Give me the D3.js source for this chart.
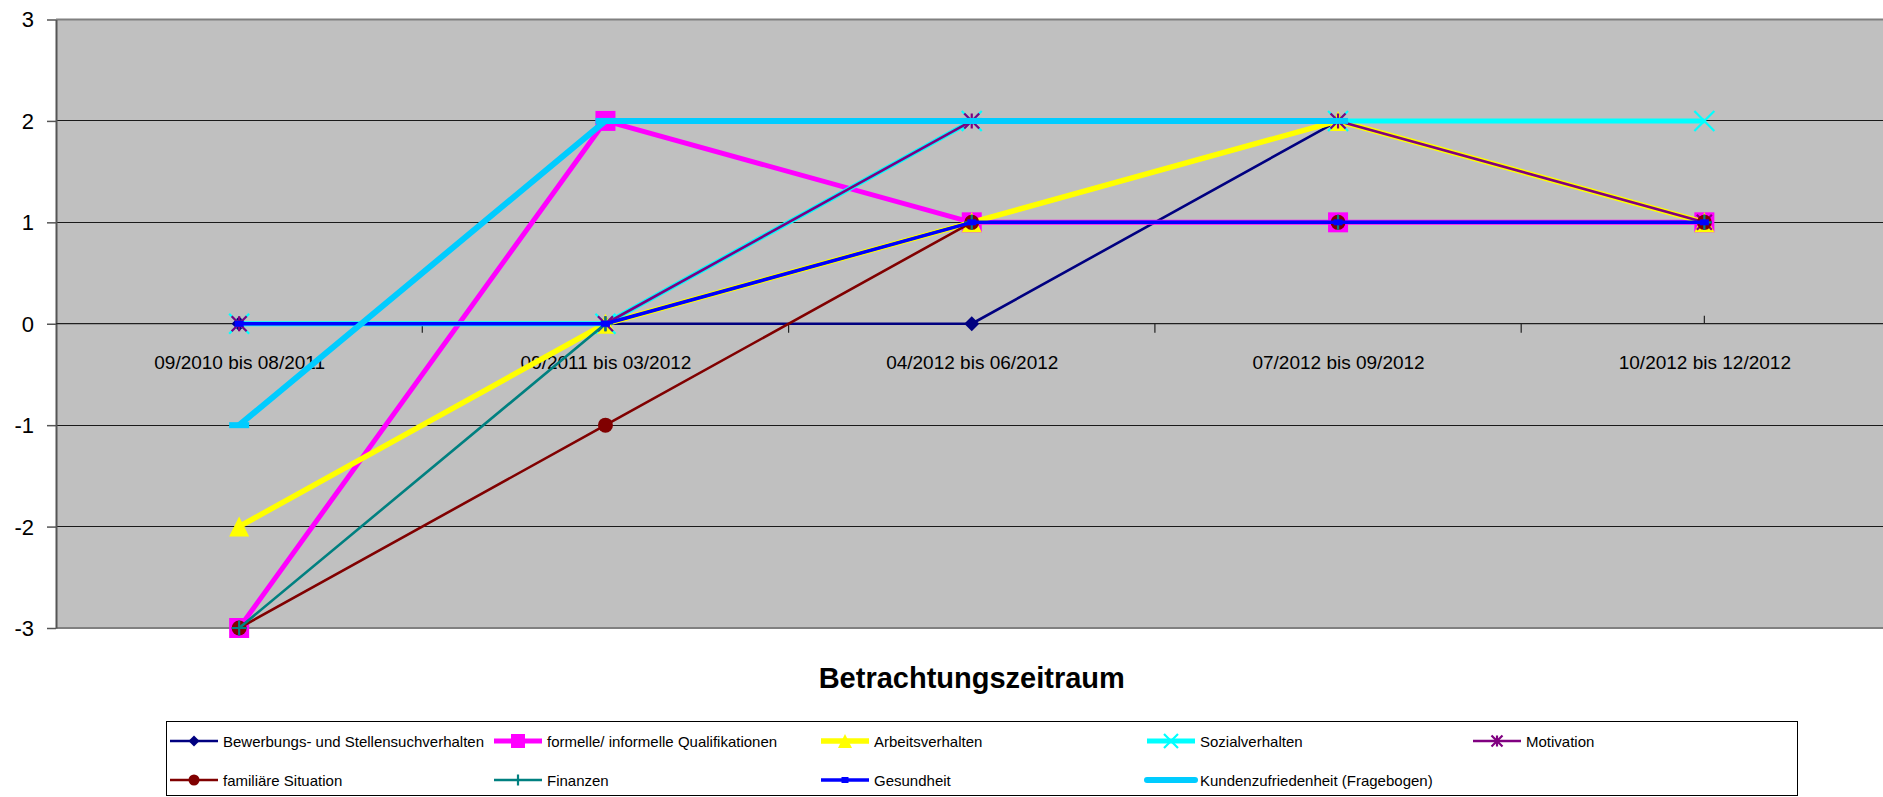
<!DOCTYPE html>
<html>
<head>
<meta charset="utf-8">
<script src="https://cdn.jsdelivr.net/npm/d3@7"></script>
<style>
  html, body { margin: 0; padding: 0; background: #fff; }
  svg { display: block; font-family: "Liberation Sans", Arial, sans-serif; }
</style>
</head>
<body>
<svg id="chart" width="1883" height="797"></svg>
<script>
// ---------- data ----------
const categories = ["09/2010 bis 08/2011", "09/2011 bis 03/2012", "04/2012 bis 06/2012", "07/2012 bis 09/2012", "10/2012 bis 12/2012"];
const yTicks = [-3, -2, -1, 0, 1, 2, 3];
const seriesNames = [
  "Bewerbungs- und Stellensuchverhalten",
  "formelle/ informelle Qualifikationen",
  "Arbeitsverhalten",
  "Sozialverhalten",
  "Motivation",
  "familiäre Situation",
  "Finanzen",
  "Gesundheit",
  "Kundenzufriedenheit (Fragebogen)"
];
const bewerbung      = [0, 0, 0, 2, 1];
const qualifikation  = [-3, 2, 1, 1, 1];
const arbeit         = [-2, 0, 1, 2, 1];
const sozial         = [0, 0, 2, 2, 2];
const motivation     = [0, 0, 2, 2, 1];
const familie        = [-3, -1, 1, 1, 1];
const finanzen       = [-3, 0, 1, 1, 1];
const gesundheit     = [0, 0, 1, 1, 1];
const kunden         = [-1, 2, 2, 2, null];
const xTitle = "Betrachtungszeitraum";

// ---------- styling ----------
const styles = [
  { color: "#000080", width: 2.6, marker: "diamond", size: 15 },
  { color: "#FF00FF", width: 5,   marker: "square",  size: 20 },
  { color: "#FFFF00", width: 5.5, marker: "triangle", size: 20 },
  { color: "#00FFFF", width: 5,   marker: "x",       size: 20 },
  { color: "#800080", width: 2.6, marker: "asterisk", size: 15 },
  { color: "#800000", width: 2.6, marker: "circle",  size: 15 },
  { color: "#008080", width: 2.6, marker: "plus",    size: 15 },
  { color: "#0000FF", width: 3.5, marker: "smallsq", size: 9 },
  { color: "#00CCFF", width: 6,   marker: "dash",    size: 20 }
];
const values = [bewerbung, qualifikation, arbeit, sozial, motivation, familie, finanzen, gesundheit, kunden];

const svg = d3.select("#chart");
const L = 56, R = 1887.5, T = 19.5, B = 628;

const x = d3.scalePoint().domain(categories).range([L, R]).padding(0.5);
const y = d3.scaleLinear().domain([-3, 3]).range([B, T]);

// plot background
svg.append("rect").attr("x", L).attr("y", T).attr("width", R - L).attr("height", B - T).attr("fill", "#C0C0C0");

// gridlines
svg.append("g").selectAll("line").data(yTicks.filter(d => d !== 3 && d !== -3)).join("line")
  .attr("x1", L).attr("x2", R).attr("y1", d => y(d)).attr("y2", d => y(d))
  .attr("stroke", "#1a1a1a").attr("stroke-width", 1).attr("shape-rendering", "crispEdges");

// plot border top/bottom
svg.append("line").attr("x1", L).attr("x2", R).attr("y1", T).attr("y2", T).attr("stroke", "#808080").attr("stroke-width", 2);
svg.append("line").attr("x1", L).attr("x2", R).attr("y1", B).attr("y2", B).attr("stroke", "#808080").attr("stroke-width", 2);

// y axis (ticks + line via d3 axis, labels placed explicitly)
const yAxis = d3.axisLeft(y).tickValues(yTicks).tickSize(9).tickSizeOuter(0).tickFormat("");
const gy = svg.append("g").attr("transform", `translate(${L},0)`).call(yAxis);
gy.select(".domain").attr("stroke", "#555").attr("stroke-width", 2);
gy.selectAll(".tick line").attr("stroke", "#555").attr("stroke-width", 1.5);
svg.append("g").selectAll("text").data(yTicks).join("text")
  .attr("x", 34).attr("y", d => y(d)).attr("dy", "0.36em")
  .attr("text-anchor", "end").attr("font-size", 22).attr("fill", "#000")
  .text(d => d < 0 ? "-" + Math.abs(d) : String(d));

// x axis at y=0
const x0 = y(0);
const step = x.step();
const xAxis = d3.axisBottom(x).tickSize(0).tickPadding(32);
const gx = svg.append("g").attr("transform", `translate(0,${x0})`).call(xAxis);
gx.select(".domain").remove();
gx.selectAll(".tick text").attr("font-size", 19).attr("fill", "#000")
  .attr("font-family", "Liberation Sans, Arial, sans-serif");
svg.append("line").attr("x1", L).attr("x2", R).attr("y1", x0).attr("y2", x0)
  .attr("stroke", "#222").attr("stroke-width", 1.2);
// boundary ticks
const bounds = categories.slice(1).map(c => x(c) - step / 2);
svg.append("g").selectAll("line").data(bounds).join("line")
  .attr("x1", d => d).attr("x2", d => d).attr("y1", x0).attr("y2", x0 + 9)
  .attr("stroke", "#222").attr("stroke-width", 1.2);
svg.append("line").attr("x1", x(categories[4])).attr("x2", x(categories[4]))
  .attr("y1", x0 - 8).attr("y2", x0).attr("stroke", "#222").attr("stroke-width", 1.2);

// marker drawing
function drawMarker(g, type, cx, cy, s, color) {
  const h = s / 2;
  if (type === "diamond") {
    g.append("path").attr("d", `M${cx},${cy - h}L${cx + h},${cy}L${cx},${cy + h}L${cx - h},${cy}Z`).attr("fill", color);
  } else if (type === "square") {
    g.append("rect").attr("x", cx - h).attr("y", cy - h).attr("width", s).attr("height", s).attr("fill", color);
  } else if (type === "triangle") {
    g.append("path").attr("d", `M${cx},${cy - h}L${cx + h},${cy + h}L${cx - h},${cy + h}Z`).attr("fill", color);
  } else if (type === "x") {
    g.append("path").attr("d", `M${cx - h},${cy - h}L${cx + h},${cy + h}M${cx + h},${cy - h}L${cx - h},${cy + h}`)
      .attr("stroke", color).attr("stroke-width", 2.2).attr("fill", "none");
  } else if (type === "asterisk") {
    g.append("path").attr("d", `M${cx - h},${cy - h}L${cx + h},${cy + h}M${cx + h},${cy - h}L${cx - h},${cy + h}M${cx},${cy - h}L${cx},${cy + h}`)
      .attr("stroke", color).attr("stroke-width", 2.2).attr("fill", "none");
  } else if (type === "circle") {
    g.append("circle").attr("cx", cx).attr("cy", cy).attr("r", h).attr("fill", color);
  } else if (type === "plus") {
    g.append("path").attr("d", `M${cx - h},${cy}L${cx + h},${cy}M${cx},${cy - h}L${cx},${cy + h}`)
      .attr("stroke", color).attr("stroke-width", 2.2).attr("fill", "none");
  } else if (type === "smallsq") {
    g.append("rect").attr("x", cx - s / 2).attr("y", cy - 3).attr("width", s).attr("height", 6).attr("fill", color);
  } else if (type === "dash") {
    g.append("rect").attr("x", cx - h).attr("y", cy - 3).attr("width", s).attr("height", 6).attr("fill", color);
  }
}

// series
const lineGen = d3.line().defined(d => d.v !== null).x(d => x(d.c)).y(d => y(d.v));
const plot = svg.append("g");
values.forEach((vals, i) => {
  const st = styles[i];
  const pts = vals.map((v, j) => ({ c: categories[j], v }));
  const g = plot.append("g");
  g.append("path").datum(pts).attr("d", lineGen).attr("fill", "none")
    .attr("stroke", st.color).attr("stroke-width", st.width).attr("stroke-linejoin", "round");
  pts.filter(p => p.v !== null).forEach(p => drawMarker(g, st.marker, x(p.c), y(p.v), st.size, st.color));
});

// axis title
svg.append("text").attr("x", (L + R) / 2).attr("y", 688).attr("text-anchor", "middle")
  .attr("font-size", 29).attr("font-weight", "bold").text(xTitle);

// legend
const lg = svg.append("g");
lg.append("rect").attr("x", 166.5).attr("y", 721.5).attr("width", 1631).attr("height", 74)
  .attr("fill", "#fff").attr("stroke", "#000").attr("stroke-width", 1);
const colX = [170, 494, 821, 1147, 1473];
const rowY = [741, 780];
seriesNames.forEach((name, i) => {
  const col = i % 5, row = Math.floor(i / 5);
  const lx = colX[col], ly = rowY[row];
  const st = styles[i];
  const eg = lg.append("g");
  eg.append("line").attr("x1", lx).attr("x2", lx + 48).attr("y1", ly).attr("y2", ly)
    .attr("stroke", st.color).attr("stroke-width", st.width).attr("stroke-linecap", i === 8 ? "round" : "butt");
  if (st.marker !== "dash") {
    const ms = st.marker === "smallsq" ? 7 : Math.round(st.size * 0.7);
    drawMarker(eg, st.marker, lx + 24, ly, ms, st.color);
  }
  eg.append("text").attr("x", lx + 53).attr("y", ly + 5.5).attr("font-size", 15).text(name);
});
</script>
</body>
</html>
